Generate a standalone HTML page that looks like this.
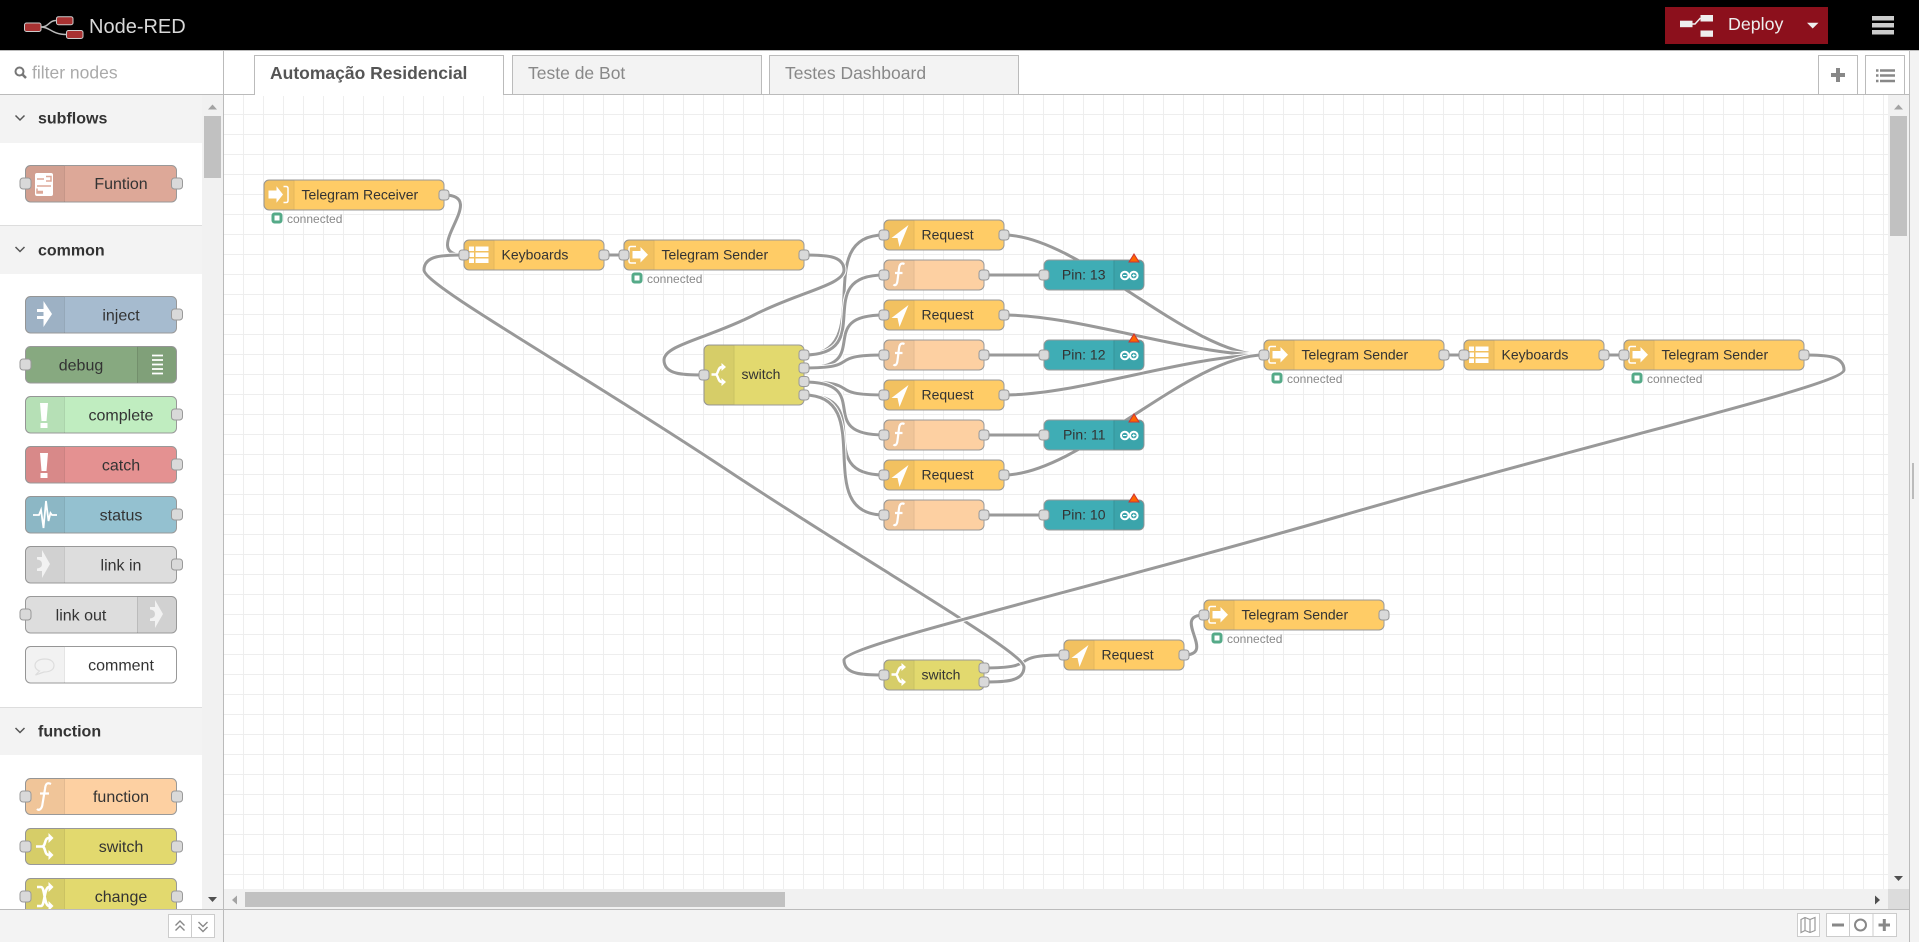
<!DOCTYPE html>
<html lang="pt">
<head>
<meta charset="utf-8">
<title>Node-RED</title>
<style>
html,body{margin:0;padding:0;background:#fff;overflow:hidden}
svg{display:block;position:absolute;left:0;top:0}
text{font-family:"Liberation Sans",Arial,sans-serif}
.o{fill:none;stroke:#fff;stroke-width:5}
.l{fill:none;stroke:#999;stroke-width:3}
.n{stroke:#999;stroke-width:1}
.p{fill:#d9d9d9;stroke:#999;stroke-width:1}
.t{font-size:14px;fill:#333}
.s{font-size:12px;fill:#888}
.pt{font-size:16px;fill:#333;text-anchor:middle}
.h{font-size:16px;font-weight:bold;fill:#333}
.d{fill:#000;fill-opacity:.05}
.dl{stroke:#000;stroke-opacity:.1;stroke-width:1}
</style>
</head>
<body>
<svg width="1919" height="942" viewBox="0 0 1919 942" xmlns="http://www.w3.org/2000/svg">
<defs>
<pattern id="grid" x="243" y="114" width="20" height="20" patternUnits="userSpaceOnUse">
<path d="M.5 0V20M0 .5H20" stroke="#eee" stroke-width="1" fill="none"/>
</pattern>
<path id="sh" d="M30 .5H5a4.500 4.500 0 0 0-4.500 4.500v20.500a4.500 4.500 0 0 0 4.500 4.500h25z"/>
<g id="stat"><rect x="9.500" y="34.500" width="8" height="8" rx="1.500" fill="#fff" stroke="#5a8" stroke-width="3"/></g>
<g id="i-tgs" fill="#fff"><path d="M12.500 7H7.500Q5.500 7 5.500 9V21.500Q5.500 23.500 7.500 23.500H12.500" fill="none" stroke="#fff" stroke-width="1.500"/><path d="M9 11.500H17V7.500L24.500 15.300L17 23V19H9z"/></g>
<g id="i-tgr" fill="#fff"><path d="M20 7H22.500Q24.500 7 24.500 9V21Q24.500 23 22.500 23H20" fill="none" stroke="#fff" stroke-width="1.500"/><path d="M5 11H13V6.800L19.500 15L13 23.200V19H5z"/></g>
<g id="i-kb" fill="#fff"><rect x="5.500" y="7" width="5" height="4.500"/><rect x="12" y="7" width="13" height="4.500"/><rect x="5.500" y="13" width="5" height="4.500"/><rect x="12" y="13" width="13" height="4.500"/><rect x="5.500" y="19" width="5" height="4.500"/><rect x="12" y="19" width="13" height="4.500"/></g>
<path id="i-req" fill="#fff" d="M25 5.500L8 18.500H14L16 27.500z"/>
<path id="i-fn" fill="none" stroke="#fff" stroke-width="2.200" d="M21 4.500C17.500 3 16 5 15.500 9L14 21C13.500 25.500 11.500 26.500 10 25M11.500 13.500H19"/>
<g id="i-sw"><path d="M8 15H12C15 15 14 7.500 18.500 7.500M12 15C15 15 14 22.500 18.500 22.500" fill="none" stroke="#fff" stroke-width="2.400"/><path d="M18 3.500L22.500 7.500L18 11.500zM18 18.500L22.500 22.500L18 26.500z" fill="#fff"/></g>
<g id="i-ard" fill="none" stroke="#fff" stroke-width="2"><circle cx="81.300" cy="16" r="3.800"/><circle cx="90.300" cy="16" r="3.800"/><path d="M79.500 16H83M88.700 16H92M90.300 14.300V17.700" stroke-width="1"/></g>
<path id="w1" d="M444 195C491.400 195 416.600 255 464 255"/>
<path id="w3" d="M804 255C824 255 844 255 844 270S799 292 754 315S664 345 664 360S684 375 704 375"/>
<path id="a1" d="M804 355C879 355 809 235 884 235"/>
<path id="a2" d="M804 355C879 355 809 275 884 275"/>
<path id="a3" d="M804 368C876 368 812 315 884 315"/>
<path id="a4" d="M804 368C865 368 823 355 884 355"/>
<path id="a5" d="M804 382C865 382 823 395 884 395"/>
<path id="a6" d="M804 382C876 382 812 435 884 435"/>
<path id="a7" d="M804 395C879 395 809 475 884 475"/>
<path id="a8" d="M804 395C879 395 809 515 884 515"/>
<path id="b1" d="M1004 235C1079 235 1189 355 1264 355"/>
<path id="b2" d="M1004 315C1079 315 1189 355 1264 355"/>
<path id="b3" d="M1004 395C1079 395 1189 355 1264 355"/>
<path id="b4" d="M1004 475C1079 475 1189 355 1264 355"/>
<path id="c1" d="M1804 355C1824 355 1844 355 1844 370S1594 442 1344 515S844 645 844 660S864 675 884 675"/>
<path id="c2" d="M984 682C1004 682 1024 682 1024 667S874 567.500 724 468S424 285 424 270S444 255 464 255"/>
<path id="c3" d="M984 668C1044.800 668 1003.200 655 1064 655"/>
<path id="c4" d="M1184 655C1217.500 655 1170.500 615 1204 615"/>
</defs>

<!-- workspace -->
<rect x="224" y="95" width="1664" height="794" fill="#fff"/>
<rect x="224" y="95" width="1664" height="794" fill="url(#grid)"/>

<!-- wires -->
<g>
<use href="#w1" class="o"/><use href="#w1" class="l"/>
<path d="M604 255H624" class="l"/>
<use href="#a1" class="o"/><use href="#a1" class="l"/>
<use href="#a2" class="o"/><use href="#a2" class="l"/>
<use href="#a3" class="o"/><use href="#a3" class="l"/>
<use href="#a4" class="o"/><use href="#a4" class="l"/>
<use href="#a5" class="o"/><use href="#a5" class="l"/>
<use href="#a6" class="o"/><use href="#a6" class="l"/>
<use href="#a7" class="o"/><use href="#a7" class="l"/>
<use href="#a8" class="o"/><use href="#a8" class="l"/>
<use href="#w3" class="o"/><use href="#w3" class="l"/>
<path d="M984 275H1044M984 355H1044M984 435H1044M984 515H1044" class="l"/>
<use href="#b1" class="o"/><use href="#b1" class="l"/>
<use href="#b2" class="o"/><use href="#b2" class="l"/>
<use href="#b3" class="o"/><use href="#b3" class="l"/>
<use href="#b4" class="o"/><use href="#b4" class="l"/>
<path d="M1444 355H1464M1604 355H1624" class="l"/>
<use href="#c3" class="o"/><use href="#c3" class="l"/>
<use href="#c4" class="o"/><use href="#c4" class="l"/>
<use href="#c2" class="o"/><use href="#c2" class="l"/>
<use href="#c1" class="o"/><use href="#c1" class="l"/>
</g>

<!-- canvas nodes -->
<g transform="translate(263.500,179.500)"><rect class="n" x=".5" y=".5" width="180" height="30" rx="5" fill="#ffcc66"/><use href="#sh" class="d"/><path class="dl" d="M30.500 1V30"/><use href="#i-tgr"/><rect class="p" x="175.500" y="10.500" width="10" height="10" rx="3"/><text class="t" x="38" y="20">Telegram Receiver</text><use href="#stat"/><text class="s" x="23.500" y="43.500">connected</text></g>

<g transform="translate(463.500,239.500)"><rect class="n" x=".5" y=".5" width="140" height="30" rx="5" fill="#ffcc66"/><use href="#sh" class="d"/><path class="dl" d="M30.500 1V30"/><use href="#i-kb"/><rect class="p" x="-4.500" y="10.500" width="10" height="10" rx="3"/><rect class="p" x="135.500" y="10.500" width="10" height="10" rx="3"/><text class="t" x="38" y="20">Keyboards</text></g>

<g transform="translate(623.500,239.500)"><rect class="n" x=".5" y=".5" width="180" height="30" rx="5" fill="#ffcc66"/><use href="#sh" class="d"/><path class="dl" d="M30.500 1V30"/><use href="#i-tgs"/><rect class="p" x="-4.500" y="10.500" width="10" height="10" rx="3"/><rect class="p" x="175.500" y="10.500" width="10" height="10" rx="3"/><text class="t" x="38" y="20">Telegram Sender</text><use href="#stat"/><text class="s" x="23.500" y="43.500">connected</text></g>

<g transform="translate(703.500,344.500)"><rect class="n" x=".5" y=".5" width="100" height="60" rx="5" fill="#e2d96e"/><path class="d" d="M30 .5H5a4.500 4.500 0 0 0-4.500 4.500v51a4.500 4.500 0 0 0 4.500 4.500h25z"/><path class="dl" d="M30.500 1V60"/><use href="#i-sw" y="15"/><rect class="p" x="-4.500" y="25.500" width="10" height="10" rx="3"/><rect class="p" x="95.500" y="5.500" width="10" height="10" rx="3"/><rect class="p" x="95.500" y="18.500" width="10" height="10" rx="3"/><rect class="p" x="95.500" y="32" width="10" height="10" rx="3"/><rect class="p" x="95.500" y="45.500" width="10" height="10" rx="3"/><text class="t" x="38" y="34.500">switch</text></g>

<!-- requests -->
<g transform="translate(883.500,219.500)"><rect class="n" x=".5" y=".5" width="120" height="30" rx="5" fill="#ffcc66"/><use href="#sh" class="d"/><path class="dl" d="M30.500 1V30"/><use href="#i-req"/><rect class="p" x="-4.500" y="10.500" width="10" height="10" rx="3"/><rect class="p" x="115.500" y="10.500" width="10" height="10" rx="3"/><text class="t" x="38" y="20">Request</text></g>
<g transform="translate(883.500,299.500)"><rect class="n" x=".5" y=".5" width="120" height="30" rx="5" fill="#ffcc66"/><use href="#sh" class="d"/><path class="dl" d="M30.500 1V30"/><use href="#i-req"/><rect class="p" x="-4.500" y="10.500" width="10" height="10" rx="3"/><rect class="p" x="115.500" y="10.500" width="10" height="10" rx="3"/><text class="t" x="38" y="20">Request</text></g>
<g transform="translate(883.500,379.500)"><rect class="n" x=".5" y=".5" width="120" height="30" rx="5" fill="#ffcc66"/><use href="#sh" class="d"/><path class="dl" d="M30.500 1V30"/><use href="#i-req"/><rect class="p" x="-4.500" y="10.500" width="10" height="10" rx="3"/><rect class="p" x="115.500" y="10.500" width="10" height="10" rx="3"/><text class="t" x="38" y="20">Request</text></g>
<g transform="translate(883.500,459.500)"><rect class="n" x=".5" y=".5" width="120" height="30" rx="5" fill="#ffcc66"/><use href="#sh" class="d"/><path class="dl" d="M30.500 1V30"/><use href="#i-req"/><rect class="p" x="-4.500" y="10.500" width="10" height="10" rx="3"/><rect class="p" x="115.500" y="10.500" width="10" height="10" rx="3"/><text class="t" x="38" y="20">Request</text></g>

<!-- functions -->
<g transform="translate(883.500,259.500)"><rect class="n" x=".5" y=".5" width="100" height="30" rx="5" fill="#fdd0a2"/><use href="#sh" class="d"/><path class="dl" d="M30.500 1V30"/><use href="#i-fn"/><rect class="p" x="-4.500" y="10.500" width="10" height="10" rx="3"/><rect class="p" x="95.500" y="10.500" width="10" height="10" rx="3"/></g>
<g transform="translate(883.500,339.500)"><rect class="n" x=".5" y=".5" width="100" height="30" rx="5" fill="#fdd0a2"/><use href="#sh" class="d"/><path class="dl" d="M30.500 1V30"/><use href="#i-fn"/><rect class="p" x="-4.500" y="10.500" width="10" height="10" rx="3"/><rect class="p" x="95.500" y="10.500" width="10" height="10" rx="3"/></g>
<g transform="translate(883.500,419.500)"><rect class="n" x=".5" y=".5" width="100" height="30" rx="5" fill="#fdd0a2"/><use href="#sh" class="d"/><path class="dl" d="M30.500 1V30"/><use href="#i-fn"/><rect class="p" x="-4.500" y="10.500" width="10" height="10" rx="3"/><rect class="p" x="95.500" y="10.500" width="10" height="10" rx="3"/></g>
<g transform="translate(883.500,499.500)"><rect class="n" x=".5" y=".5" width="100" height="30" rx="5" fill="#fdd0a2"/><use href="#sh" class="d"/><path class="dl" d="M30.500 1V30"/><use href="#i-fn"/><rect class="p" x="-4.500" y="10.500" width="10" height="10" rx="3"/><rect class="p" x="95.500" y="10.500" width="10" height="10" rx="3"/></g>

<!-- pins -->
<g transform="translate(1043.500,259.500)"><rect class="n" x=".5" y=".5" width="100" height="30" rx="5" fill="#3fadb5"/><path class="d" d="M70 .5H96a4.500 4.500 0 0 1 4.500 4.500v21a4.500 4.500 0 0 1-4.500 4.500H70z"/><path class="dl" d="M70.500 1V30"/><use href="#i-ard"/><rect class="p" x="-4.500" y="10.500" width="10" height="10" rx="3"/><text class="t" x="62" y="20" text-anchor="end">Pin: 13</text><path d="M90.500 -5.500L95.500 2.500H85.500z" fill="#f60" stroke="#c33" stroke-width="1"/></g>
<g transform="translate(1043.500,339.500)"><rect class="n" x=".5" y=".5" width="100" height="30" rx="5" fill="#3fadb5"/><path class="d" d="M70 .5H96a4.500 4.500 0 0 1 4.500 4.500v21a4.500 4.500 0 0 1-4.500 4.500H70z"/><path class="dl" d="M70.500 1V30"/><use href="#i-ard"/><rect class="p" x="-4.500" y="10.500" width="10" height="10" rx="3"/><text class="t" x="62" y="20" text-anchor="end">Pin: 12</text><path d="M90.500 -5.500L95.500 2.500H85.500z" fill="#f60" stroke="#c33" stroke-width="1"/></g>
<g transform="translate(1043.500,419.500)"><rect class="n" x=".5" y=".5" width="100" height="30" rx="5" fill="#3fadb5"/><path class="d" d="M70 .5H96a4.500 4.500 0 0 1 4.500 4.500v21a4.500 4.500 0 0 1-4.500 4.500H70z"/><path class="dl" d="M70.500 1V30"/><use href="#i-ard"/><rect class="p" x="-4.500" y="10.500" width="10" height="10" rx="3"/><text class="t" x="62" y="20" text-anchor="end">Pin: 11</text><path d="M90.500 -5.500L95.500 2.500H85.500z" fill="#f60" stroke="#c33" stroke-width="1"/></g>
<g transform="translate(1043.500,499.500)"><rect class="n" x=".5" y=".5" width="100" height="30" rx="5" fill="#3fadb5"/><path class="d" d="M70 .5H96a4.500 4.500 0 0 1 4.500 4.500v21a4.500 4.500 0 0 1-4.500 4.500H70z"/><path class="dl" d="M70.500 1V30"/><use href="#i-ard"/><rect class="p" x="-4.500" y="10.500" width="10" height="10" rx="3"/><text class="t" x="62" y="20" text-anchor="end">Pin: 10</text><path d="M90.500 -5.500L95.500 2.500H85.500z" fill="#f60" stroke="#c33" stroke-width="1"/></g>

<!-- right chain -->
<g transform="translate(1263.500,339.500)"><rect class="n" x=".5" y=".5" width="180" height="30" rx="5" fill="#ffcc66"/><use href="#sh" class="d"/><path class="dl" d="M30.500 1V30"/><use href="#i-tgs"/><rect class="p" x="-4.500" y="10.500" width="10" height="10" rx="3"/><rect class="p" x="175.500" y="10.500" width="10" height="10" rx="3"/><text class="t" x="38" y="20">Telegram Sender</text><use href="#stat"/><text class="s" x="23.500" y="43.500">connected</text></g>
<g transform="translate(1463.500,339.500)"><rect class="n" x=".5" y=".5" width="140" height="30" rx="5" fill="#ffcc66"/><use href="#sh" class="d"/><path class="dl" d="M30.500 1V30"/><use href="#i-kb"/><rect class="p" x="-4.500" y="10.500" width="10" height="10" rx="3"/><rect class="p" x="135.500" y="10.500" width="10" height="10" rx="3"/><text class="t" x="38" y="20">Keyboards</text></g>
<g transform="translate(1623.500,339.500)"><rect class="n" x=".5" y=".5" width="180" height="30" rx="5" fill="#ffcc66"/><use href="#sh" class="d"/><path class="dl" d="M30.500 1V30"/><use href="#i-tgs"/><rect class="p" x="-4.500" y="10.500" width="10" height="10" rx="3"/><rect class="p" x="175.500" y="10.500" width="10" height="10" rx="3"/><text class="t" x="38" y="20">Telegram Sender</text><use href="#stat"/><text class="s" x="23.500" y="43.500">connected</text></g>

<!-- bottom flow -->
<g transform="translate(883.500,659.500)"><rect class="n" x=".5" y=".5" width="100" height="30" rx="5" fill="#e2d96e"/><use href="#sh" class="d"/><path class="dl" d="M30.500 1V30"/><use href="#i-sw"/><rect class="p" x="-4.500" y="10.500" width="10" height="10" rx="3"/><rect class="p" x="95.500" y="3.500" width="10" height="10" rx="3"/><rect class="p" x="95.500" y="17.500" width="10" height="10" rx="3"/><text class="t" x="38" y="20">switch</text></g>
<g transform="translate(1063.500,639.500)"><rect class="n" x=".5" y=".5" width="120" height="30" rx="5" fill="#ffcc66"/><use href="#sh" class="d"/><path class="dl" d="M30.500 1V30"/><use href="#i-req"/><rect class="p" x="-4.500" y="10.500" width="10" height="10" rx="3"/><rect class="p" x="115.500" y="10.500" width="10" height="10" rx="3"/><text class="t" x="38" y="20">Request</text></g>
<g transform="translate(1203.500,599.500)"><rect class="n" x=".5" y=".5" width="180" height="30" rx="5" fill="#ffcc66"/><use href="#sh" class="d"/><path class="dl" d="M30.500 1V30"/><use href="#i-tgs"/><rect class="p" x="-4.500" y="10.500" width="10" height="10" rx="3"/><rect class="p" x="175.500" y="10.500" width="10" height="10" rx="3"/><text class="t" x="38" y="20">Telegram Sender</text><use href="#stat"/><text class="s" x="23.500" y="43.500">connected</text></g>

<!-- workspace scrollbars -->
<rect x="1888" y="95" width="21" height="794" fill="#f1f1f1"/>
<rect x="1890" y="116" width="17" height="120" fill="#c1c1c1"/>
<path d="M1894 109.500L1898.500 104.500L1903 109.500z" fill="#a3a3a3"/>
<path d="M1894 876L1898.500 881L1903 876z" fill="#505050"/>
<rect x="224" y="889" width="1664" height="20" fill="#f1f1f1"/>
<rect x="245" y="892" width="540" height="15" fill="#c1c1c1"/>
<path d="M237 895.500L232 900L237 904.500z" fill="#a3a3a3"/>
<path d="M1875 895.500L1880 900L1875 904.500z" fill="#505050"/>
<rect x="1888" y="889" width="21" height="20" fill="#dcdcdc"/>

<!-- tab bar -->
<rect x="224" y="51" width="1685" height="43" fill="#fff"/>
<path d="M224 94.500H1909" stroke="#bbb"/>
<path d="M254.500 95V55.500H503.500V95" fill="#fff" stroke="#bbb"/>
<rect x="255" y="92" width="248" height="4" fill="#fff"/>
<path d="M512.500 94V55.500H761.500V94" fill="#f3f3f3" stroke="#bbb"/>
<path d="M769.500 94V55.500H1018.500V94" fill="#f3f3f3" stroke="#bbb"/>
<text x="270" y="79" font-size="17.500" font-weight="bold" fill="#555">Automação Residencial</text>
<text x="528" y="79" font-size="17.500" fill="#888">Teste de Bot</text>
<text x="785" y="79" font-size="17.500" fill="#888">Testes Dashboard</text>
<path d="M1818.500 94V55.500H1857.500V94" fill="#fff" stroke="#bbb"/>
<path d="M1865.500 94V55.500H1904.500V94" fill="#fff" stroke="#bbb"/>
<path d="M1838 68V82M1831 75H1845" stroke="#888" stroke-width="4"/>
<path d="M1880 70.500H1895M1880 75.500H1895M1880 81H1895" stroke="#888" stroke-width="2.500"/>
<path d="M1876 70.500H1878.500M1876 75.500H1878.500M1876 81H1878.500" stroke="#888" stroke-width="2.500"/>

<!-- right separator -->
<rect x="1909" y="51" width="10" height="891" fill="#f3f3f3"/>
<path d="M1909.500 51V942" stroke="#bbb"/>
<rect x="1912" y="463" width="2" height="36" fill="#bbb"/>

<!-- sidebar -->
<rect x="0" y="51" width="223" height="858" fill="#fff"/>
<path d="M0 94.500H223M223.500 51V942" stroke="#bbb"/>
<circle cx="19.500" cy="71.500" r="4" fill="none" stroke="#777" stroke-width="2"/>
<path d="M22.500 74.500L26 78" stroke="#777" stroke-width="2.500"/>
<text x="32" y="78.500" font-size="17.500" fill="#aaa">filter nodes</text>

<rect x="202" y="95" width="21" height="814" fill="#f1f1f1"/>
<rect x="204" y="116" width="17" height="62" fill="#c1c1c1"/>
<path d="M208 109.500L212.500 104.500L217 109.500z" fill="#a3a3a3"/>
<path d="M208 897L212.500 902L217 897z" fill="#505050"/>

<rect x="0" y="95" width="202" height="48" fill="#f3f3f3"/>
<path d="M15.500 115.500L20 120L24.500 115.500" fill="none" stroke="#555" stroke-width="1.500"/>
<text class="h" x="38" y="123.500">subflows</text>

<rect x="0" y="225" width="202" height="49" fill="#f3f3f3"/>
<path d="M0 225.500H202" stroke="#ddd"/>
<path d="M15.500 247L20 251.500L24.500 247" fill="none" stroke="#555" stroke-width="1.500"/>
<text class="h" x="38" y="255.500">common</text>

<rect x="0" y="707" width="202" height="48" fill="#f3f3f3"/>
<path d="M0 707.500H202" stroke="#ddd"/>
<path d="M15.500 728L20 732.500L24.500 728" fill="none" stroke="#555" stroke-width="1.500"/>
<text class="h" x="38" y="736.500">function</text>

<!-- palette -->
<g>
<!-- Funtion -->
<g transform="translate(25,165)"><rect class="n" x=".5" y=".5" width="151" height="36.500" rx="5" fill="#dda898"/><path class="d" d="M39 .5H5a4.500 4.500 0 0 0-4.500 4.500v27a4.500 4.500 0 0 0 4.500 4.500h34z"/><path class="dl" d="M39.500 1V37"/><rect x="10" y="8" width="18" height="23" rx="2" fill="#fff"/><path d="M12 14H19M21 11.500H26V16H21M12 21H26M12 26.500H18M12 23.500V28H18" fill="none" stroke="#dda898" stroke-width="1.500"/><rect class="p" x="-5" y="13" width="11" height="11" rx="3"/><rect class="p" x="146.500" y="13" width="11" height="11" rx="3"/><text class="pt" x="96" y="24">Funtion</text></g>
<!-- inject -->
<g transform="translate(25,296)"><rect class="n" x=".5" y=".5" width="151" height="36.500" rx="5" fill="#a6bbcf"/><path class="d" d="M39 .5H5a4.500 4.500 0 0 0-4.500 4.500v27a4.500 4.500 0 0 0 4.500 4.500h34z"/><path class="dl" d="M39.500 1V37"/><path d="M12 13H18.500V5L27 18L18.500 31V23H12V20H18.500V16H12z" fill="#fff"/><rect class="p" x="146.500" y="13" width="11" height="11" rx="3"/><text class="pt" x="96" y="24.500">inject</text></g>
<!-- debug -->
<g transform="translate(25,346)"><rect class="n" x=".5" y=".5" width="151" height="36.500" rx="5" fill="#87a980"/><path class="d" d="M112 .5H146.500a4.500 4.500 0 0 1 4.500 4.500v27a4.500 4.500 0 0 1-4.500 4.500H112z"/><path class="dl" d="M112.500 1V37"/><path d="M127 9.500H138M127 14H138M127 18.500H138M127 23H138M127 27.500H138" stroke="#fff" stroke-width="1.800"/><rect class="p" x="-5" y="13" width="11" height="11" rx="3"/><text class="pt" x="56" y="24.500">debug</text></g>
<!-- complete -->
<g transform="translate(25,396)"><rect class="n" x=".5" y=".5" width="151" height="36.500" rx="5" fill="#c0edc0"/><path class="d" d="M39 .5H5a4.500 4.500 0 0 0-4.500 4.500v27a4.500 4.500 0 0 0 4.500 4.500h34z"/><path class="dl" d="M39.500 1V37"/><path d="M15 7H23L21.500 25H16.500zM15.500 27H22.500V32H15.500z" fill="#fff"/><rect class="p" x="146.500" y="13" width="11" height="11" rx="3"/><text class="pt" x="96" y="24.500">complete</text></g>
<!-- catch -->
<g transform="translate(25,446)"><rect class="n" x=".5" y=".5" width="151" height="36.500" rx="5" fill="#e49191"/><path class="d" d="M39 .5H5a4.500 4.500 0 0 0-4.500 4.500v27a4.500 4.500 0 0 0 4.500 4.500h34z"/><path class="dl" d="M39.500 1V37"/><path d="M15 7H23L21.500 25H16.500zM15.500 27H22.500V32H15.500z" fill="#fff"/><rect class="p" x="146.500" y="13" width="11" height="11" rx="3"/><text class="pt" x="96" y="24.500">catch</text></g>
<!-- status -->
<g transform="translate(25,496)"><rect class="n" x=".5" y=".5" width="151" height="36.500" rx="5" fill="#94c1d0"/><path class="d" d="M39 .5H5a4.500 4.500 0 0 0-4.500 4.500v27a4.500 4.500 0 0 0 4.500 4.500h34z"/><path class="dl" d="M39.500 1V37"/><path d="M8 19H14L16 14L18.500 32L21 5L23.500 25L25.500 17L27 19H32" fill="none" stroke="#fff" stroke-width="1.800"/><rect class="p" x="146.500" y="13" width="11" height="11" rx="3"/><text class="pt" x="96" y="24.500">status</text></g>
<!-- link in -->
<g transform="translate(25,546)"><rect class="n" x=".5" y=".5" width="151" height="36.500" rx="5" fill="#ddd"/><path class="d" d="M39 .5H5a4.500 4.500 0 0 0-4.500 4.500v27a4.500 4.500 0 0 0 4.500 4.500h34z"/><path class="dl" d="M39.500 1V37"/><path d="M17 4L25 18L17 32V25H12V22.500Q17 22 17 18T12 13.500V11H17z" fill="#f2f2f2"/><rect class="p" x="146.500" y="13" width="11" height="11" rx="3"/><text class="pt" x="96" y="24.500">link in</text></g>
<!-- link out -->
<g transform="translate(25,596)"><rect class="n" x=".5" y=".5" width="151" height="36.500" rx="5" fill="#ddd"/><path class="d" d="M112 .5H146.500a4.500 4.500 0 0 1 4.500 4.500v27a4.500 4.500 0 0 1-4.500 4.500H112z"/><path class="dl" d="M112.500 1V37"/><path d="M130 4L138 18L130 32V25H125V22.500Q130 22 130 18T125 13.500V11H130z" fill="#f2f2f2"/><rect class="p" x="-5" y="13" width="11" height="11" rx="3"/><text class="pt" x="56" y="24.500">link out</text></g>
<!-- comment -->
<g transform="translate(25,646)"><rect class="n" x=".5" y=".5" width="151" height="36.500" rx="5" fill="#fff"/><path class="d" d="M39 .5H5a4.500 4.500 0 0 0-4.500 4.500v27a4.500 4.500 0 0 0 4.500 4.500h34z"/><path class="dl" d="M39.500 1V37"/><path d="M20 13C12 13 10 17 10 19.500C10 22 12 24 14.500 25L10.500 29L19 26C26 26 29 23 29 19.500C29 16 26 13 20 13z" fill="none" stroke="#ddd" stroke-width="1.200"/><text class="pt" x="96" y="24.500">comment</text></g>
<!-- function -->
<g transform="translate(25,778)"><rect class="n" x=".5" y=".5" width="151" height="36" rx="5" fill="#fdd0a2"/><path class="d" d="M39 .5H5a4.500 4.500 0 0 0-4.500 4.500v26.500a4.500 4.500 0 0 0 4.500 4.500h34z"/><path class="dl" d="M39.500 1V36"/><path d="M26 6C22 4 20.500 6 20 11L17.500 26C17 31 14 33 12 31M15 15.500H24" fill="none" stroke="#fff" stroke-width="2.200"/><rect class="p" x="-5" y="13" width="11" height="11" rx="3"/><rect class="p" x="146.500" y="13" width="11" height="11" rx="3"/><text class="pt" x="96" y="24">function</text></g>
<!-- switch -->
<g transform="translate(25,828)"><rect class="n" x=".5" y=".5" width="151" height="36" rx="5" fill="#e2d96e"/><path class="d" d="M39 .5H5a4.500 4.500 0 0 0-4.500 4.500v26.500a4.500 4.500 0 0 0 4.500 4.500h34z"/><path class="dl" d="M39.500 1V36"/><path d="M11 18.500H17C21 18.500 19 10 24 10M17 18.500C21 18.500 19 27 24 27" fill="none" stroke="#fff" stroke-width="2.600"/><path d="M23.500 5L28.500 10L23.500 15zM23.500 22L28.500 27L23.500 32z" fill="#fff"/><rect class="p" x="-5" y="13" width="11" height="11" rx="3"/><rect class="p" x="146.500" y="13" width="11" height="11" rx="3"/><text class="pt" x="96" y="24">switch</text></g>
<!-- change -->
<g transform="translate(25,878)"><rect class="n" x=".5" y=".5" width="151" height="36" rx="5" fill="#e2d96e"/><path class="d" d="M39 .5H5a4.500 4.500 0 0 0-4.500 4.500v26.500a4.500 4.500 0 0 0 4.500 4.500h34z"/><path class="dl" d="M39.500 1V36"/><path d="M12 9H16C20 9 19 28 24 28M12 28H16C20 28 19 9 24 9" fill="none" stroke="#fff" stroke-width="2.600"/><path d="M23.500 4L28.500 9L23.500 14zM23.500 23L28.500 28L23.500 33z" fill="#fff"/><rect class="p" x="-5" y="13" width="11" height="11" rx="3"/><rect class="p" x="146.500" y="13" width="11" height="11" rx="3"/><text class="pt" x="96" y="24">change</text></g>
</g>

<!-- footer -->
<rect x="0" y="909" width="1909" height="33" fill="#f3f3f3"/>
<path d="M0 909.500H1909M223.500 909V942M1909.500 909V942" stroke="#bbb"/>
<rect x="168.500" y="914.500" width="23" height="23" fill="#fff" stroke="#ccc"/>
<rect x="191.500" y="914.500" width="23" height="23" fill="#fff" stroke="#ccc"/>
<path d="M175.500 925.500L180 921L184.500 925.500M175.500 930.500L180 926L184.500 930.500" fill="none" stroke="#888" stroke-width="1.400"/>
<path d="M198.500 922L203 926.500L207.500 922M198.500 927L203 931.500L207.500 927" fill="none" stroke="#888" stroke-width="1.400"/>

<rect x="1797.500" y="913.500" width="22" height="23" fill="#fff" stroke="#ccc"/>
<path d="M1801 919.500L1805 917.500L1810 919.500L1815 917.500V930.500L1810 932.500L1805 930.500L1801 932.500zM1805 917.500V930.500M1810 919.500V932.500" fill="none" stroke="#999" stroke-width="1.200"/>
<rect x="1826.500" y="913.500" width="23" height="23" fill="#fff" stroke="#ccc"/>
<rect x="1849.500" y="913.500" width="23.500" height="23" fill="#fff" stroke="#ccc"/>
<rect x="1873" y="913.500" width="23.500" height="23" fill="#fff" stroke="#ccc"/>
<path d="M1832 925H1844" stroke="#888" stroke-width="3"/>
<circle cx="1860.500" cy="925" r="5.500" fill="none" stroke="#888" stroke-width="2"/>
<path d="M1878.500 925H1890M1884.300 919V931" stroke="#888" stroke-width="3"/>

<!-- header -->
<rect x="0" y="0" width="1919" height="50" fill="#000"/>
<path d="M0 50.500H1919" stroke="#bbb"/>
<path d="M41 27C49 27 49 20.500 56 20.500M41 27C50 27 52 34.500 66 34.500" fill="none" stroke="#bbb" stroke-width="1.500"/>
<rect x="24.500" y="23" width="16.500" height="8.500" rx="2" fill="#a83232" stroke="#ccc" stroke-width="1"/>
<rect x="56.500" y="16.700" width="16.500" height="8" rx="2" fill="#a83232" stroke="#ccc" stroke-width="1"/>
<rect x="66.500" y="30.500" width="16.500" height="8" rx="2" fill="#a83232" stroke="#ccc" stroke-width="1"/>
<text x="89" y="33" font-size="20" fill="#d9d9d9">Node-RED</text>

<rect x="1665" y="7" width="163" height="37" fill="#8c101c"/>
<rect x="1680" y="20.700" width="12.500" height="6.500" fill="#eee"/>
<rect x="1700.500" y="15" width="12.500" height="6.500" fill="#eee"/>
<rect x="1700.500" y="30.500" width="12.500" height="6.300" fill="#eee"/>
<path d="M1692 24L1695 24L1700.500 18" fill="none" stroke="#eee" stroke-width="1.500"/>
<text x="1728" y="30" font-size="17.800" fill="#eee">Deploy</text>
<path d="M1807 22.700H1818.500L1812.700 28.500z" fill="#eee"/>
<rect x="1872" y="16" width="22" height="4.500" fill="#ccc"/>
<rect x="1872" y="23" width="22" height="4.500" fill="#ccc"/>
<rect x="1872" y="30" width="22" height="4.500" fill="#ccc"/>
</svg>
</body>
</html>
